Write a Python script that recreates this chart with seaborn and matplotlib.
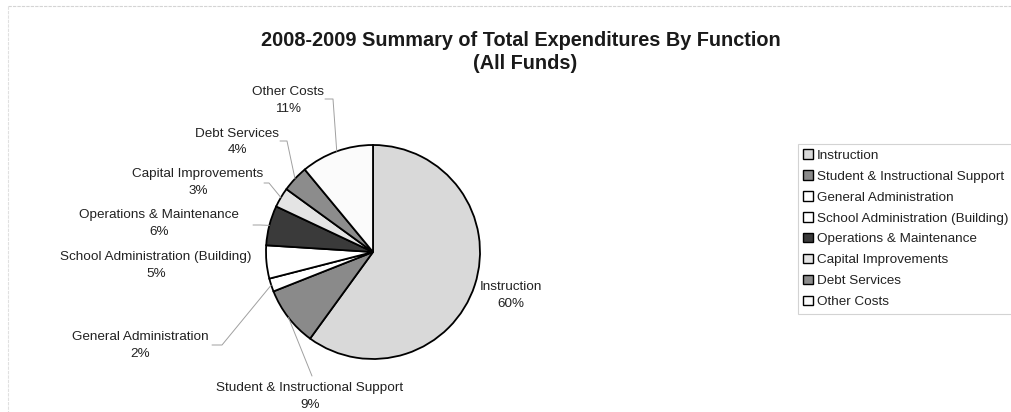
import numpy as np
import matplotlib
matplotlib.use("Agg")
import matplotlib.pyplot as plt
import seaborn as sns

sns.set_theme(style="white")
plt.rcParams["font.family"] = ["Liberation Sans", "DejaVu Sans"]

# Expenditure shares by function (percent)
categories = [
    "Instruction",
    "Student & Instructional Support",
    "General Administration",
    "School Administration (Building)",
    "Operations & Maintenance",
    "Capital Improvements",
    "Debt Services",
    "Other Costs",
]
shares = [60, 9, 2, 5, 6, 3, 4, 11]
share_labels = ["60%", "9%", "2%", "5%", "6%", "3%", "4%", "11%"]

colors = ["#d9d9d9", "#8a8a8a", "#ffffff", "#ffffff",
          "#3a3a3a", "#e4e4e4", "#8c8c8c", "#fbfbfb"]

W, H = 1011, 412
fig = plt.figure(figsize=(W / 100, H / 100), dpi=100)
ax = fig.add_axes([0, 0, 1, 1])

cx, cy, r = 373, H - 252, 107
wedges, _ = ax.pie(
    shares, colors=colors, startangle=90, counterclock=False,
    center=(cx, cy), radius=r, frame=True,
    wedgeprops=dict(edgecolor="black", linewidth=1.3),
)
ax.set_xlim(0, W)
ax.set_ylim(0, H)
ax.set_aspect("equal")
ax.axis("off")

# label text centres (x, y from top) and leader-line start points
label_pos = [
    (511, 295.5), (310, 396.5), (140, 345.5), (156, 265.5),
    (159, 223.5), (198, 182.5), (237, 142), (288, 100.5),
]
leader_start = [
    None, [(312, 376)], [(212, 345), (222, 345)], None,
    [(253, 225), (260, 225)], [(264, 183), (269, 183)],
    [(280, 141), (287, 141)], [(325, 99), (333, 99)],
]

FS = 9.7
for w, name, lab, pos, ls in zip(wedges, categories, share_labels,
                                 label_pos, leader_start):
    mid = np.deg2rad((w.theta1 + w.theta2) / 2)
    ex, ey = cx + r * np.cos(mid), cy + r * np.sin(mid)
    ax.text(pos[0], H - pos[1], f"{name}\n{lab}", ha="center", va="center",
            fontsize=FS, color="#222222", linespacing=1.55)
    if ls is not None:
        xs = [p[0] for p in ls] + [ex]
        ys = [H - p[1] for p in ls] + [ey]
        ax.plot(xs, ys, color="#a0a0a0", lw=0.7)

ax.text(521, H - 40, "2008-2009 Summary of Total Expenditures By Function",
        ha="center", va="center", fontsize=14.3, fontweight="bold",
        color="#1a1a1a")
ax.text(525, H - 63, "(All Funds)", ha="center", va="center",
        fontsize=14.3, fontweight="bold", color="#1a1a1a")

# faint chart-area border
ax.plot([8, W], [H - 6, H - 6], color="#d4d4d4", lw=0.8, ls=(0, (3, 1)))
ax.plot([8, 8], [H - 6, 0], color="#e0e0e0", lw=0.8, ls=(0, (3, 1)))

leg = ax.legend(
    wedges, categories, loc="upper left",
    bbox_to_anchor=(798 / W, 1 - 144 / H), bbox_transform=fig.transFigure,
    frameon=True, fancybox=False, fontsize=FS, handlelength=0.7,
    handleheight=0.7, handletextpad=0.3, labelspacing=0.63,
    borderpad=0.4, borderaxespad=0, labelcolor="#222222",
)
leg.get_frame().set_edgecolor("#c8c8c8")
leg.get_frame().set_linewidth(0.8)
for h in leg.legend_handles:
    h.set_linewidth(1.0)

fig.savefig("out.png", dpi=100, facecolor="white")
